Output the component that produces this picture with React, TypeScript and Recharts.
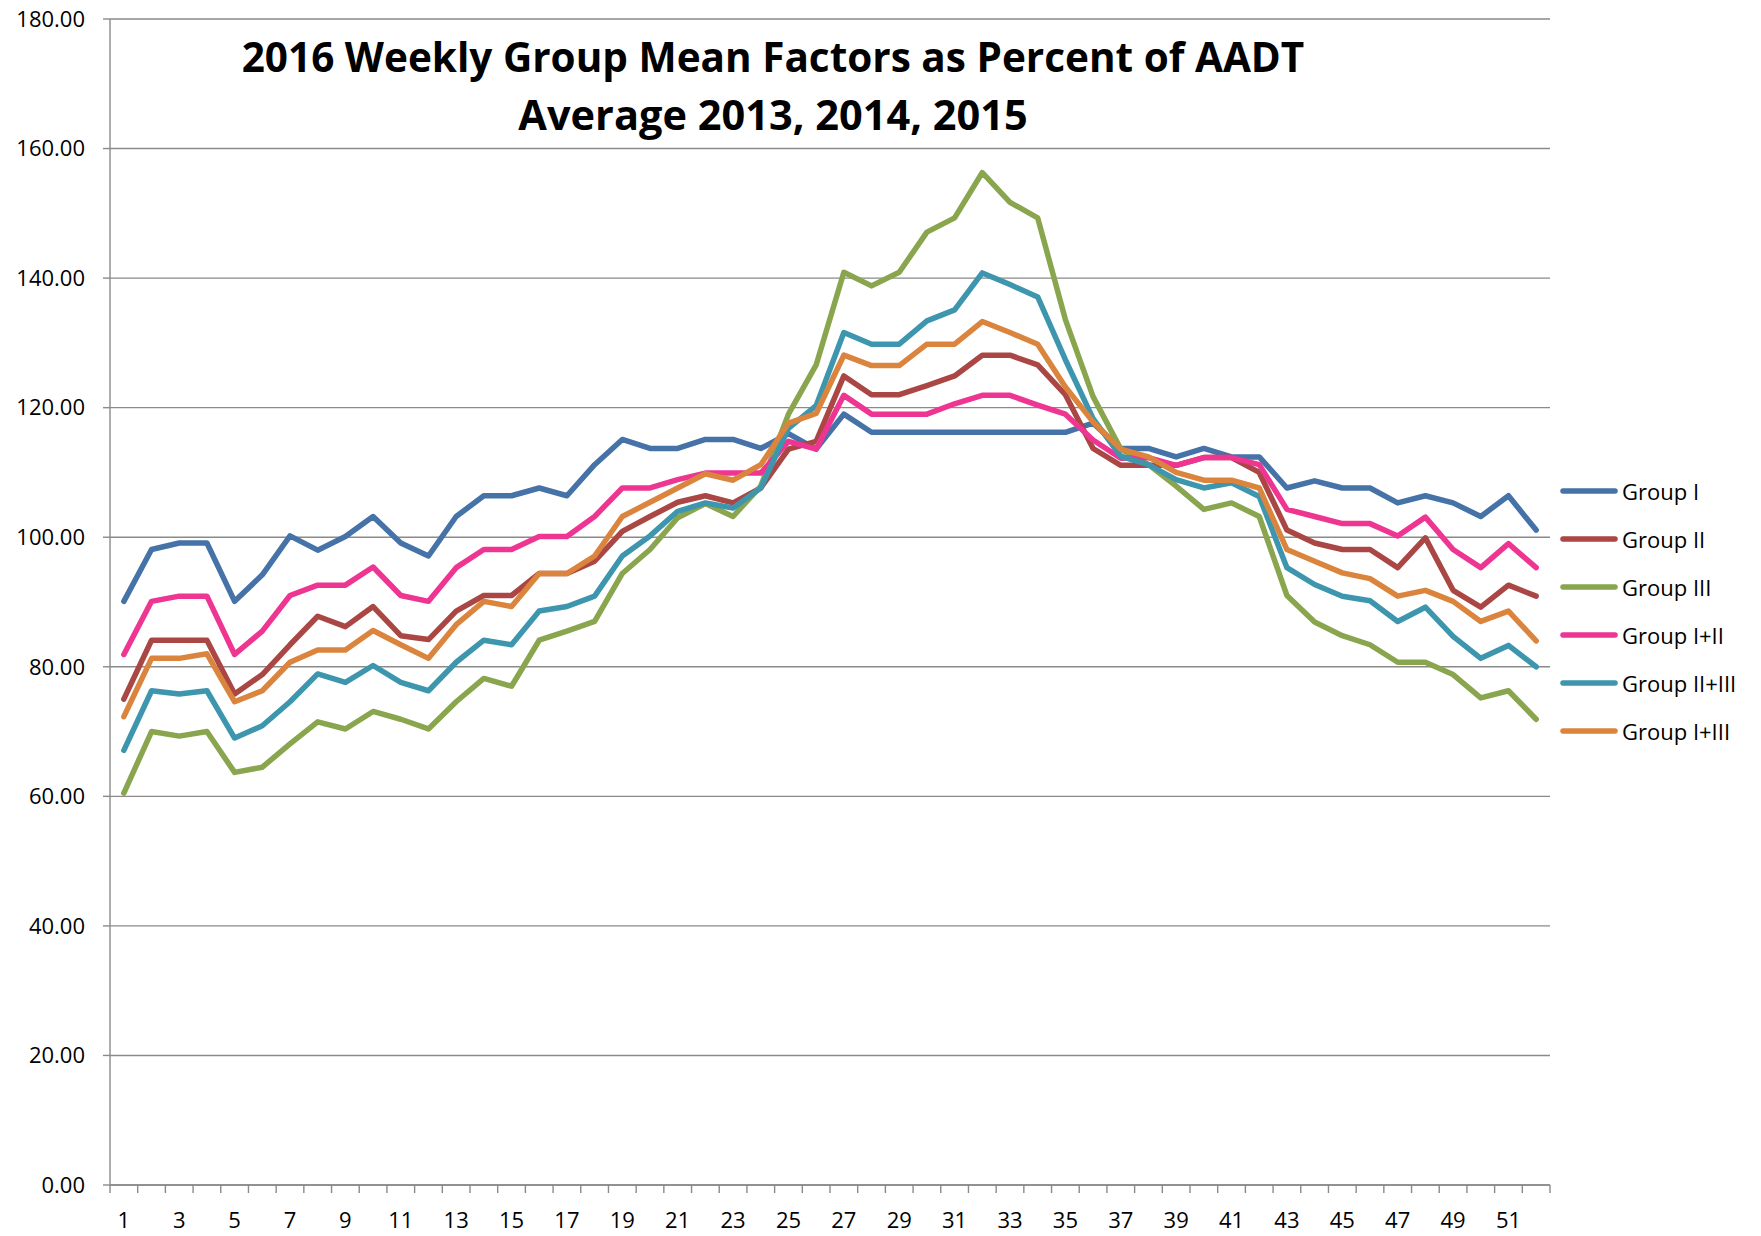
import React from 'react';
import { LineChart, Line, XAxis, YAxis, CartesianGrid, Legend } from 'recharts';

const weeks = [1, 2, 3, 4, 5, 6, 7, 8, 9, 10, 11, 12, 13, 14, 15, 16, 17, 18, 19, 20, 21, 22, 23, 24, 25, 26,
  27, 28, 29, 30, 31, 32, 33, 34, 35, 36, 37, 38, 39, 40, 41, 42, 43, 44, 45, 46, 47, 48, 49, 50, 51, 52];

const groupI = [90.1, 98.1, 99.1, 99.1, 90.1, 94.2, 100.2, 98.0, 100.1, 103.2, 99.1, 97.1, 103.2, 106.4, 106.4, 107.6,
  106.4, 111.2, 115.1, 113.7, 113.7, 115.1, 115.1, 113.7, 116.0, 113.6, 119.0, 116.2, 116.2, 116.2, 116.2, 116.2,
  116.2, 116.2, 116.2, 117.6, 113.7, 113.7, 112.4, 113.7, 112.4, 112.4, 107.6, 108.7, 107.6, 107.6, 105.3, 106.4,
  105.3, 103.2, 106.4, 101.1];

const groupII = [75.0, 84.1, 84.1, 84.1, 75.8, 78.8, 83.4, 87.8, 86.2, 89.3, 84.8, 84.2, 88.6, 91.0, 91.0, 94.4,
  94.4, 96.3, 100.9, 103.2, 105.4, 106.4, 105.3, 107.6, 113.6, 114.8, 124.9, 122.0, 122.0, 123.4, 124.9, 128.1,
  128.1, 126.6, 122.0, 113.7, 111.1, 111.1, 111.1, 112.3, 112.3, 110.0, 101.1, 99.1, 98.1, 98.1, 95.3, 99.9,
  91.8, 89.2, 92.6, 90.9];

const groupIII = [60.5, 70.0, 69.3, 70.0, 63.7, 64.5, 68.1, 71.5, 70.4, 73.1, 71.9, 70.4, 74.6, 78.2, 77.0, 84.1,
  85.5, 87.0, 94.4, 98.1, 103.0, 105.2, 103.2, 107.9, 119.0, 126.6, 140.9, 138.8, 140.9, 147.1, 149.3, 156.3,
  151.7, 149.3, 133.6, 121.7, 113.6, 111.2, 107.9, 104.3, 105.3, 103.2, 91.0, 86.9, 84.8, 83.4, 80.7, 80.7,
  78.8, 75.2, 76.3, 71.9];

const groupIandII = [81.9, 90.1, 90.9, 90.9, 81.9, 85.5, 91.0, 92.6, 92.6, 95.4, 91.0, 90.1, 95.3, 98.1, 98.1, 100.1,
  100.1, 103.2, 107.6, 107.6, 108.9, 109.9, 109.9, 109.9, 114.8, 113.6, 121.9, 119.0, 119.0, 119.0, 120.6, 121.9,
  121.9, 120.4, 119.0, 115.0, 112.2, 112.3, 111.1, 112.3, 112.3, 111.2, 104.3, 103.2, 102.1, 102.1, 100.2, 103.1,
  98.1, 95.3, 99.0, 95.3];

const groupIIandIII = [67.1, 76.3, 75.8, 76.3, 69.0, 70.9, 74.6, 78.9, 77.6, 80.2, 77.6, 76.3, 80.7, 84.1, 83.4, 88.6,
  89.3, 90.9, 97.1, 100.2, 104.0, 105.3, 104.5, 107.6, 116.8, 120.3, 131.6, 129.8, 129.8, 133.4, 135.1, 140.8,
  139.0, 137.1, 127.4, 118.3, 112.5, 111.2, 108.9, 107.6, 108.4, 106.3, 95.3, 92.7, 90.9, 90.2, 87.0, 89.2,
  84.7, 81.3, 83.3, 80.0];

const groupIandIII = [72.3, 81.3, 81.3, 82.0, 74.6, 76.3, 80.7, 82.6, 82.6, 85.6, 83.4, 81.3, 86.5, 90.1, 89.3, 94.4,
  94.4, 97.1, 103.2, 105.4, 107.6, 109.8, 108.8, 111.2, 117.6, 119.1, 128.1, 126.5, 126.5, 129.8, 129.8, 133.3,
  131.6, 129.8, 123.2, 117.8, 113.6, 112.4, 110.0, 108.8, 108.8, 107.6, 98.1, 96.3, 94.5, 93.6, 90.9, 91.8,
  90.1, 87.0, 88.6, 84.0];

const yTicks = [0, 20, 40, 60, 80, 100, 120, 140, 160, 180];

const titleLines = ['2016 Weekly Group Mean Factors as Percent of AADT', 'Average 2013, 2014, 2015'];

const SERIES = [
  { key: 'g1', name: 'Group I', color: '#4572A7', values: groupI },
  { key: 'g2', name: 'Group II', color: '#AA4643', values: groupII },
  { key: 'g3', name: 'Group III', color: '#89A54E', values: groupIII },
  { key: 'g12', name: 'Group I+II', color: '#EE3592', values: groupIandII },
  { key: 'g23', name: 'Group II+III', color: '#3D96AE', values: groupIIandIII },
  { key: 'g13', name: 'Group I+III', color: '#DB843D', values: groupIandIII },
];

const data = weeks.map((w, i) => {
  const row: Record<string, number> = { week: w };
  SERIES.forEach((s) => {
    row[s.key] = s.values[i];
  });
  return row;
});

const W = 1761;
const H = 1236;
const PLOT_LEFT = 110;
const PLOT_RIGHT = 1550;
const PLOT_TOP = 19;
const PLOT_BOTTOM = 1185;
const STEP = (PLOT_RIGHT - PLOT_LEFT) / weeks.length;
const FONT = '"Open Sans", Lato, sans-serif';
const GRID = '#8a8a8a';

function XTick(props: any) {
  const { x, payload, index } = props;
  const left = x - STEP / 2;
  const isLast = index === weeks.length - 1;
  return (
    <g>
      <line x1={left} x2={left} y1={PLOT_BOTTOM} y2={PLOT_BOTTOM + 8} stroke={GRID} strokeWidth={1.4} />
      {isLast && (
        <line x1={x + STEP / 2} x2={x + STEP / 2} y1={PLOT_BOTTOM} y2={PLOT_BOTTOM + 8} stroke={GRID} strokeWidth={1.4} />
      )}
      {index % 2 === 0 && (
        <text x={x} y={1228} textAnchor="middle" fontSize={22} fontFamily={FONT} fill="#000">
          {payload.value}
        </text>
      )}
    </g>
  );
}

function LegendContent() {
  return (
    <div style={{ fontFamily: FONT, fontSize: 22, color: '#000' }}>
      {SERIES.map((s) => (
        <div key={s.key} style={{ height: 48.1, display: 'flex', alignItems: 'center' }}>
          <svg width={60} height={10} style={{ display: 'block' }}>
            <line x1={4} x2={56} y1={5} y2={5} stroke={s.color} strokeWidth={5.5} strokeLinecap="round" />
          </svg>
          <span style={{ marginLeft: 3, whiteSpace: 'nowrap' }}>{s.name}</span>
        </div>
      ))}
    </div>
  );
}

export default function App() {
  return (
    <div style={{ position: 'relative', width: W, height: H, margin: -8, background: '#fff' }}>
      <LineChart
        width={W}
        height={H}
        data={data}
        margin={{ top: PLOT_TOP, right: W - PLOT_RIGHT, bottom: 0, left: 0 }}
      >
        <CartesianGrid vertical={false} stroke={GRID} strokeWidth={1.4} />
        <XAxis
          dataKey="week"
          interval={0}
          tickLine={false}
          axisLine={{ stroke: GRID, strokeWidth: 1.4 }}
          tick={<XTick />}
          height={H - PLOT_BOTTOM}
          padding={{ left: STEP / 2, right: STEP / 2 }}
        />
        <YAxis
          domain={[0, 180]}
          ticks={yTicks}
          tickFormatter={(v: number) => v.toFixed(2)}
          width={PLOT_LEFT}
          tickSize={7}
          tickMargin={18}
          axisLine={{ stroke: GRID, strokeWidth: 1.4 }}
          tickLine={{ stroke: GRID, strokeWidth: 1.4 }}
          tick={{ fontSize: 22, fontFamily: FONT, fill: '#000' }}
          allowDataOverflow
        />
        <Legend
          layout="vertical"
          align="center"
          verticalAlign="middle"
          content={<LegendContent />}
          wrapperStyle={{ position: 'absolute', left: 1559, top: 466.6, width: 200 }}
        />
        {SERIES.map((s) => (
          <Line
            key={s.key}
            type="linear"
            dataKey={s.key}
            name={s.name}
            stroke={s.color}
            strokeWidth={5.5}
            strokeLinejoin="round"
            strokeLinecap="round"
            dot={false}
            activeDot={false}
            isAnimationActive={false}
          />
        ))}
      </LineChart>
      <svg
        width={W}
        height={H}
        style={{ position: 'absolute', left: 0, top: 0, pointerEvents: 'none' }}
      >
        <text x={773} y={72} textAnchor="middle" fontSize={40.5} fontWeight="bold" fontFamily={FONT} fill="#000">
          {titleLines[0]}
        </text>
        <text x={773} y={130} textAnchor="middle" fontSize={41.5} fontWeight="bold" fontFamily={FONT} fill="#000">
          {titleLines[1]}
        </text>
      </svg>
    </div>
  );
}
